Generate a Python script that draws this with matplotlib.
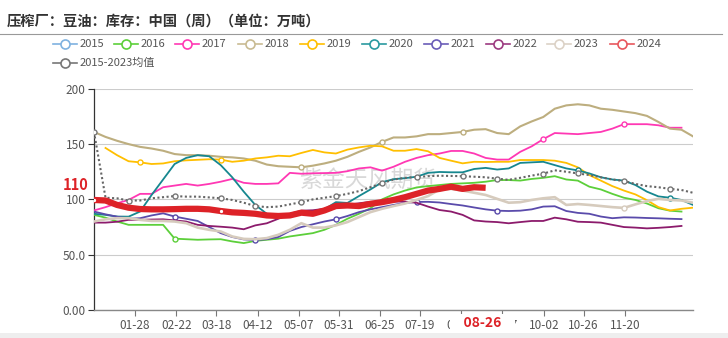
import matplotlib
matplotlib.use('Agg')
import matplotlib.pyplot as plt
import matplotlib.transforms as mtransforms
from matplotlib.lines import Line2D
from matplotlib.patches import Rectangle
import numpy as np
import pandas as pd

plt.rcParams['font.family'] = ['Noto Sans CJK SC', 'DejaVu Sans']

nan = np.nan
W, H = 728, 338

title = '压榨厂：豆油：库存：中国（周）（单位：万吨）'
watermark = '紫金天风期货'

# weekly slots across the year (53 slots), values in 万吨
tick_labels = ['01-28', '02-22', '03-18', '04-12', '05-07', '05-31', '06-25',
               '07-19', '08-13', '09-07', '10-02', '10-26', '11-20']
latest_date = '08-26'
latest_value = 110

y2016 = [86, 83.5, 80, 77, 77, 77, 77, 64.5, 64, 63.5, 63.8, 64, 62, 60.5, 62.5, 63.5,
         64.5, 66.5, 68, 69.5, 72.5, 77, 82.5, 87, 92, 100, 104.5, 108, 110.8, 112, 113,
         114, 114.5, 115, 116, 117.5, 117.5, 117, 118.5, 119.5, 121, 118, 117, 111.5, 109,
         105, 101.5, 99.5, 96.3, 92, 89.8, 89, nan]
y2017 = [90, 93, 96.5, 99.5, 105, 105, 111, 112.5, 114, 112.5, 114, 116, 118.5, 115, 114,
         114, 114.5, 124, 123.2, 123.6, 123.8, 124, 125.5, 128, 129, 126, 129.5, 134, 137.5,
         140, 141.5, 143.8, 143.8, 141.5, 137.5, 136, 136, 143, 148, 154.5, 160, 159.5, 159,
         160, 161, 164, 168, 168, 168, 167, 164.8, 164.8, nan]
y2018 = [161, 156.5, 153, 150, 147.5, 146, 144, 141, 140, 140, 139.5, 138.5, 138, 137, 135,
         131.5, 130, 129.5, 129, 130.5, 132.5, 135, 138.5, 143, 147, 152, 156, 156, 157, 159,
         159, 160, 161, 163, 163.5, 160, 159, 166, 170.5, 174.5, 182, 185, 186, 185, 182,
         181, 179.5, 178, 175.5, 170, 164, 163, 157]
y2019 = [nan, 146.5, 140, 134.5, 133.5, 132, 132.5, 134.5, 135.3, 135.8, 136.3, 136, 134, 135,
         137, 138, 139.5, 139, 142, 144.7, 142.5, 141.5, 145, 147, 148.5, 148, 144, 144,
         145.5, 143.5, 137.5, 135, 132.6, 134, 133.8, 134, 134, 135.6, 135.6, 135.6, 135,
         133, 129, 122, 117, 112, 108, 104.5, 99.3, 93, 90, 91.5, 92.5]
y2020 = [87, 86, 84.5, 84.4, 89, 104, 118, 132, 137.5, 140, 139, 131, 120, 107, 95, 87,
         84.4, 84.4, 87, 89, 91, 97.5, 96.8, 103, 109, 115.5, 118.3, 119.2, 120.5, 124,
         124.8, 124.5, 124.5, 127.5, 128.5, 127, 128, 133, 133.5, 134, 131, 128, 126.2,
         123.5, 120, 118, 117, 113, 107, 102.7, 101.5, 99.5, 95]
y2021 = [89, 86.5, 84.4, 82.5, 83, 85.5, 87.4, 84.5, 82.5, 80.5, 75, 69.5, 66, 63.8, 63.3,
         64, 66, 71.5, 75, 77.5, 80, 82, 85, 88.5, 91, 93, 95, 96.8, 97.7, 97.8, 97.2, 95.8,
         94.5, 92.7, 91, 89.8, 89.5, 89.8, 91, 93.5, 93.8, 89.5, 87.8, 87, 84.5, 83, 83.8,
         83.6, 83.2, 82.9, 82.5, 82.2, nan]
y2022 = [79, 79, 79.8, 81.5, 81.6, 81.8, 82, 81, 80, 77, 76, 75.3, 74.5, 73, 76.5, 78.4,
         82.5, 87, 89.8, 90.2, 91.5, 95, 95, 96.5, 97.8, 98, 98, 98, 97, 93.5, 90.4, 89, 86,
         81, 80, 79.5, 78.4, 79.5, 80.5, 80.5, 83.5, 82, 79.8, 79.5, 79, 77, 75, 74.5, 73.8,
         74.3, 75, 76, nan]
y2023 = [80, 82, 83, 83, 81.5, 80.5, 80.5, 80, 78.5, 74.5, 72.5, 71, 66.5, 64.3, 64, 65, 68,
         72.5, 78.5, 74.5, 74.5, 76.5, 79.5, 84, 88.5, 91.5, 94, 96.3, 99.5, 103, 109, 109.5,
         108, 106, 104, 100.5, 97, 97.5, 99.5, 101, 102, 95, 95.8, 95, 94, 93, 92.3, 95.5,
         98.5, 100.5, 99.5, 99, 97]
y2024 = [99.5, 99, 95, 92.5, 91.3, 91, 91, 91.2, 91.5, 91.5, 91, 89.5, 88.3, 87.8, 87, 85.5,
         85, 85.5, 88, 87, 90, 94, 94.5, 94, 96, 97.5, 99.5, 102, 105, 108, 109.5, 111.5,
         109.5, 111, 110.5] + [nan] * 18
y_avg = [161, 101.5, 101, 99, 99, 101, 102, 103, 102.5, 102.5, 101.8, 101, 99.5, 97, 94, 93,
         93.5, 95.5, 97.5, 100, 101.5, 103, 105, 107.5, 111, 114.5, 118, 119.5, 120.3, 121,
         121.4, 121.2, 121, 120.5, 120, 118.7, 117.7, 119.5, 121.5, 123.3, 126.3, 125, 123.5,
         122, 120, 118, 116.6, 114, 112, 111, 109.5, 108.5, 106]

weeks = np.arange(len(y_avg))


def date_to_week(s):
    day = pd.Timestamp('2023-' + s).dayofyear - 1
    return (day - 2.2) / 6.96


def fx(px):
    return px / W


def fy(py):
    return 1 - py / H


# name, values, colour, linewidth, marker slots
series = [
    ('2016', y2016, '#5ccf3a', 1.3, [7]),
    ('2017', y2017, '#ff38b4', 1.3, [39, 46]),
    ('2018', y2018, '#bdae7f', 1.5, [18, 25, 32]),
    ('2019', y2019, '#ffbf00', 1.3, [4, 11]),
    ('2020', y2020, '#16878f', 1.3, [42, 50]),
    ('2021', y2021, '#5a4bab', 1.3, [7, 14, 21, 28, 35]),
    ('2022', y2022, '#8c1b6c', 1.3, []),
    ('2023', y2023, '#d6cbbd', 1.9, [46]),
]

fig = plt.figure(figsize=(W / 100, H / 100), dpi=100)
ax = fig.add_axes([fx(94), fy(310), fx(693) - fx(94), fy(88.8) - fy(310)])

for name, vals, col, lw, marks in series:
    ax.plot(weeks, vals, color=col, lw=lw, marker='o', markevery=marks, ms=3.6,
            mfc='white', mec=col, mew=1, zorder=3)

ax.plot(weeks, y_avg, color='#666666', lw=1.5, ls=(0, (1, 1.2)), marker='o',
        markevery=[0, 3, 7, 11, 14, 18, 21, 25, 28, 32, 35, 39, 42, 46, 50], ms=3.6,
        mfc='white', mec='#777777', mew=1, zorder=4)
ax.plot(weeks, y2024, color='#dd2227', lw=4.5, solid_capstyle='butt', marker='o',
        markevery=[0, 11], ms=3.2, mfc='white', mec='#dd2227', mew=0.8, zorder=5)

ax.set_xlim(0, 52)
ax.set_ylim(0, 200)
ax.set_yticks([0, 50, 100, 150, 200])
ax.set_yticklabels(['0.00', '50.0', '100', '150', '200'])
ax.set_xticks([date_to_week(s) for s in tick_labels])
ax.set_xticklabels(tick_labels)
ax.tick_params(axis='y', length=4, width=0.8, color='#333333', labelsize=8.5,
               labelcolor='#555555', pad=2)
ax.tick_params(axis='x', length=4, width=0.8, color='#777777', labelsize=8.5,
               labelcolor='#555555', pad=2.5)
ax.grid(axis='y', color='#cccccc', lw=0.8)
ax.set_axisbelow(True)
for s in ['top', 'right']:
    ax.spines[s].set_visible(False)
ax.spines['left'].set_color('#333333')
ax.spines['left'].set_linewidth(0.9)
ax.spines['bottom'].set_color('#888888')
ax.spines['bottom'].set_linewidth(1)

ax.text(0.457, 0.588, watermark, transform=ax.transAxes, fontsize=16.5,
        color='#cfcfcf', alpha=0.8, ha='center', va='center', zorder=1)

# latest value marker on y axis
trans = mtransforms.blended_transform_factory(ax.transAxes, ax.transData)
ax.text(-0.03, latest_value + 3, str(latest_value), transform=trans, color='#dd2227',
        fontsize=10.5, fontweight='bold', ha='center', va='center', clip_on=False,
        bbox=dict(boxstyle='square,pad=0.15', fc='white', ec='none'), zorder=6)

# latest date on x axis, its white box hides the neighbouring labels as in the source
ax.annotate('    ' + latest_date + '    ', xy=(date_to_week(latest_date), 0),
            xycoords=('data', 'axes fraction'), xytext=(0, -9.2), textcoords='offset points',
            color='#dd2227', fontsize=10, fontweight='bold', ha='center', va='center',
            bbox=dict(boxstyle='square,pad=0.1', fc='white', ec='none'),
            annotation_clip=False, zorder=2)

# title and rule
fig.text(fx(7), fy(21.7), title, fontsize=10.3, fontweight='bold', color='#333333',
         ha='left', va='center')
fig.add_artist(Line2D([0, fx(722)], [fy(34), fy(34)], color='#999999', lw=0.8))

# legend
legend_names = ['2015', '2016', '2017', '2018', '2019', '2020', '2021', '2022', '2023', '2024']
legend_colors = ['#7fb2e0', '#5ccf3a', '#ff38b4', '#c9bb92', '#ffbf00', '#2a9aa0',
                 '#6a5cb8', '#9c3a80', '#dcd2c6', '#e8575d']
legend_x = [53, 114, 175, 238, 300, 362, 424, 486, 547, 610]
for name, col, px in zip(legend_names, legend_colors, legend_x):
    fig.add_artist(Line2D([fx(px), fx(px + 24)], [fy(44), fy(44)], color=col, lw=1.2))
    fig.add_artist(Line2D([fx(px + 12)], [fy(44)], marker='o', ms=6.5, mfc='white',
                          mec=col, mew=1.2))
    fig.text(fx(px + 27), fy(44), name, fontsize=8, color='#555555', ha='left', va='center')
fig.add_artist(Line2D([fx(53), fx(77)], [fy(63), fy(63)], color='#777777', lw=1.2))
fig.add_artist(Line2D([fx(65)], [fy(63)], marker='o', ms=6.5, mfc='white',
                      mec='#777777', mew=1.2))
fig.text(fx(80), fy(63), '2015-2023均值', fontsize=8, color='#555555', ha='left', va='center')

fig.add_artist(Rectangle((0, 0), 1, 5 / H, transform=fig.transFigure, fc='#eeeeee',
                         ec='none'))

fig.savefig('out.png', dpi=100)
